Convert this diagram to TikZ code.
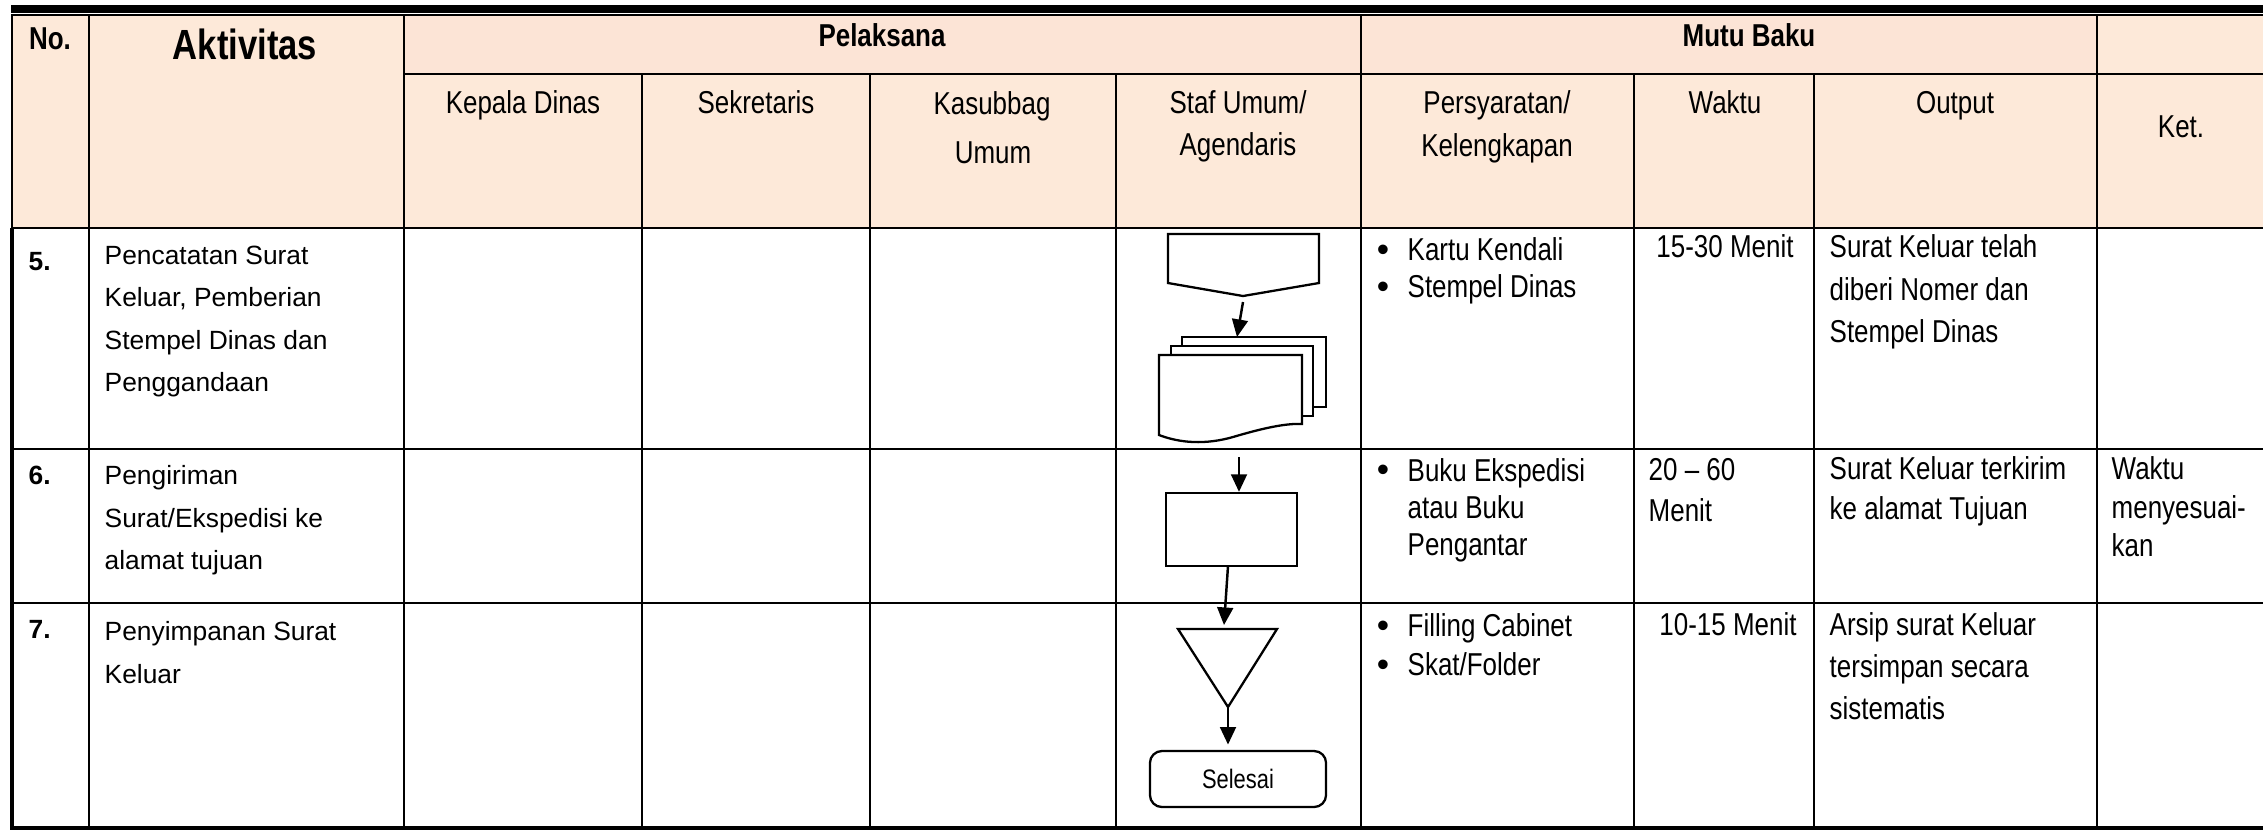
\documentclass[tikz,border=0pt]{standalone}
\usepackage{fontspec}
\setmainfont{Liberation Sans}
\newfontfamily\narrowfont[FakeStretch=0.82]{Liberation Sans}
\usetikzlibrary{arrows.meta}
\definecolor{hdrdark}{HTML}{FCE4D6}
\definecolor{hdrlight}{HTML}{FDE9D9}
\begin{document}
\begin{tikzpicture}[x=0.01cm,y=-0.01cm,
  tblrule/.style={line width=0.8pt},
  tblouter/.style={line width=1.1pt},
  hd/.style={inner sep=0pt,anchor=base,font=\narrowfont\fontsize{9}{11}\selectfont},
  hdb/.style={hd,font=\narrowfont\bfseries\fontsize{9}{11}\selectfont},
  cell/.style={inner sep=0pt,anchor=base west,font=\narrowfont\fontsize{9}{11}\selectfont},
  act/.style={inner sep=0pt,anchor=base west,font=\fontsize{7.5}{9}\selectfont},
  num/.style={act,font=\bfseries\fontsize{7.5}{9}\selectfont},
  bul/.style={inner sep=0pt,anchor=base,font=\fontsize{10}{12}\selectfont},
  fc/.style={draw,line width=0.65pt,fill=white},
  flow/.style={line width=0.7pt,-{Triangle[length=5pt,width=4.5pt]}},
]
\useasboundingbox (0,0) rectangle (2263,832);

% header shading
\fill[hdrlight] (12,14) rectangle (404,228);
\fill[hdrdark] (404,14) rectangle (2097,74);
\fill[hdrlight] (2097,14) rectangle (2263,74);
\fill[hdrlight] (404,74) rectangle (2263,228);

% heavy rule on top
\fill (11,5) rectangle (2263,12.5);
\draw[line width=0.5pt] (11,15) -- (2263,15);

% horizontal rules
\draw[tblrule] (404,74) -- (2263,74);
\draw[tblrule] (12,228) -- (2263,228);
\draw[tblrule] (12,449) -- (2263,449);
\draw[tblrule] (12,603) -- (2263,603);
\draw[tblouter] (10,828) -- (2263,828);

% vertical rules
\draw[tblrule] (12,15) -- (12,228);
\draw[tblouter] (12,228) -- (12,828);
\foreach \x in {89,404,1361,2097} \draw[tblrule] (\x,15) -- (\x,828);
\foreach \x in {642,870,1116,1634,1814} \draw[tblrule] (\x,74) -- (\x,828);

% header texts
\node[hdb] (hno) at (50,49) {No.};
\node[hd,font=\narrowfont\bfseries\fontsize{12}{14}\selectfont] (hact) at (245,59) {Aktivitas};
\node[hdb] (hpel) at (882,46.5) {Pelaksana};
\node[hdb] (hmutu) at (1749,46.5) {Mutu Baku};
\node[hd] (hkd) at (523,113) {Kepala Dinas};
\node[hd] (hsek) at (756,113) {Sekretaris};
\node[hd] (hkas1) at (992,114) {Kasubbag};
\node[hd] (hkas2) at (993,163) {Umum};
\node[hd] (hstaf1) at (1238,113) {Staf Umum/};
\node[hd] (hstaf2) at (1238,155) {Agendaris};
\node[hd] (hper1) at (1497,113) {Persyaratan/};
\node[hd] (hper2) at (1497,156) {Kelengkapan};
\node[hd] (hwak) at (1725,113) {Waktu};
\node[hd] (hout) at (1955,113) {Output};
\node[hd] (hket) at (2181,137) {Ket.};

% row 5
\node[num] (n5) at (28,270) {5.};
\node[act] (a5a) at (104,264) {Pencatatan Surat};
\node[act] (a5b) at (104,306.5) {Keluar, Pemberian};
\node[act] (a5c) at (104,349) {Stempel Dinas dan};
\node[act] (a5d) at (104,391.5) {Penggandaan};
\node[bul] (b5a) at (1383,261) {\textbullet};
\node[cell] (p5a) at (1407,260.5) {Kartu Kendali};
\node[bul] (b5b) at (1383,298) {\textbullet};
\node[cell] (p5b) at (1407,297.5) {Stempel Dinas};
\node[hd] (w5) at (1725,257.5) {15-30 Menit};
\node[cell] (o5a) at (1829,257.5) {Surat Keluar telah};
\node[cell] (o5b) at (1829,300) {diberi Nomer dan};
\node[cell] (o5c) at (1829,342.5) {Stempel Dinas};

% row 6
\node[num] (n6) at (28,484) {6.};
\node[act] (a6a) at (104,484) {Pengiriman};
\node[act] (a6b) at (104,527) {Surat/Ekspedisi ke};
\node[act] (a6c) at (104,569) {alamat tujuan};
\node[bul] (b6a) at (1383,481.5) {\textbullet};
\node[cell] (p6a) at (1407,481) {Buku Ekspedisi};
\node[cell] (p6b) at (1407,518) {atau Buku};
\node[cell] (p6c) at (1407,555) {Pengantar};
\node[cell] (w6a) at (1648,480.5) {20 – 60};
\node[cell] (w6b) at (1648,521.5) {Menit};
\node[cell] (o6a) at (1829,479.5) {Surat Keluar terkirim};
\node[cell] (o6b) at (1829,519.5) {ke alamat Tujuan};
\node[cell] (k6a) at (2111,479.5) {Waktu};
\node[cell] (k6b) at (2111,518.5) {menyesuai-};
\node[cell] (k6c) at (2111,556.5) {kan};

% row 7
\node[num] (n7) at (28,638) {7.};
\node[act] (a7a) at (104,640) {Penyimpanan Surat};
\node[act] (a7b) at (104,683) {Keluar};
\node[bul] (b7a) at (1383,637) {\textbullet};
\node[cell] (p7a) at (1407,636.5) {Filling Cabinet};
\node[bul] (b7b) at (1383,676) {\textbullet};
\node[cell] (p7b) at (1407,675.5) {Skat/Folder};
\node[hd] (w7) at (1728,635.5) {10-15 Menit};
\node[cell] (o7a) at (1829,635.5) {Arsip surat Keluar};
\node[cell] (o7b) at (1829,677.5) {tersimpan secara};
\node[cell] (o7c) at (1829,719.5) {sistematis};

% flow symbols: off-page connector
\draw[fc] (1168,234) -- (1319,234) -- (1319,283) -- (1243,296) -- (1168,283) -- cycle;
\coordinate (opc) at (1243,302);
% multiple documents
\draw[fc] (1182,337) rectangle (1326,407);
\draw[fc] (1171,346) rectangle (1313,416);
\draw[fc] (1159,355) -- (1159,435) .. controls (1180,443) and (1205,445) .. (1233,437)
  .. controls (1260,429) and (1285,423) .. (1302,424) -- (1302,355) -- cycle;
\coordinate (mdoc) at (1237,337);
\draw[flow] (opc) -- (mdoc);

% process box
\coordinate (in6) at (1239,457);
\node[fc,minimum width=1.31cm,minimum height=0.73cm,inner sep=0pt] (proc) at (1231.5,529.5) {};
\draw[flow] (in6) -- (in6 |- proc.north);

% storage triangle
\coordinate (procout) at (1228,566);
\coordinate (trin) at (1224,625);
\draw[flow] (procout) -- (trin);
\draw[fc] (1178,629) -- (1277,629) -- (1228,707) -- cycle;
\coordinate (trout) at (1228,707);

% terminator
\node[fc,rounded corners=3.4pt,minimum width=1.76cm,minimum height=0.56cm,inner sep=0pt,
  font=\narrowfont\fontsize{7.6}{9}\selectfont] (done) at (1238,779) {Selesai};
\draw[flow] (trout) -- ([yshift=1.5pt]trout |- done.north);
\end{tikzpicture}
\end{document}
